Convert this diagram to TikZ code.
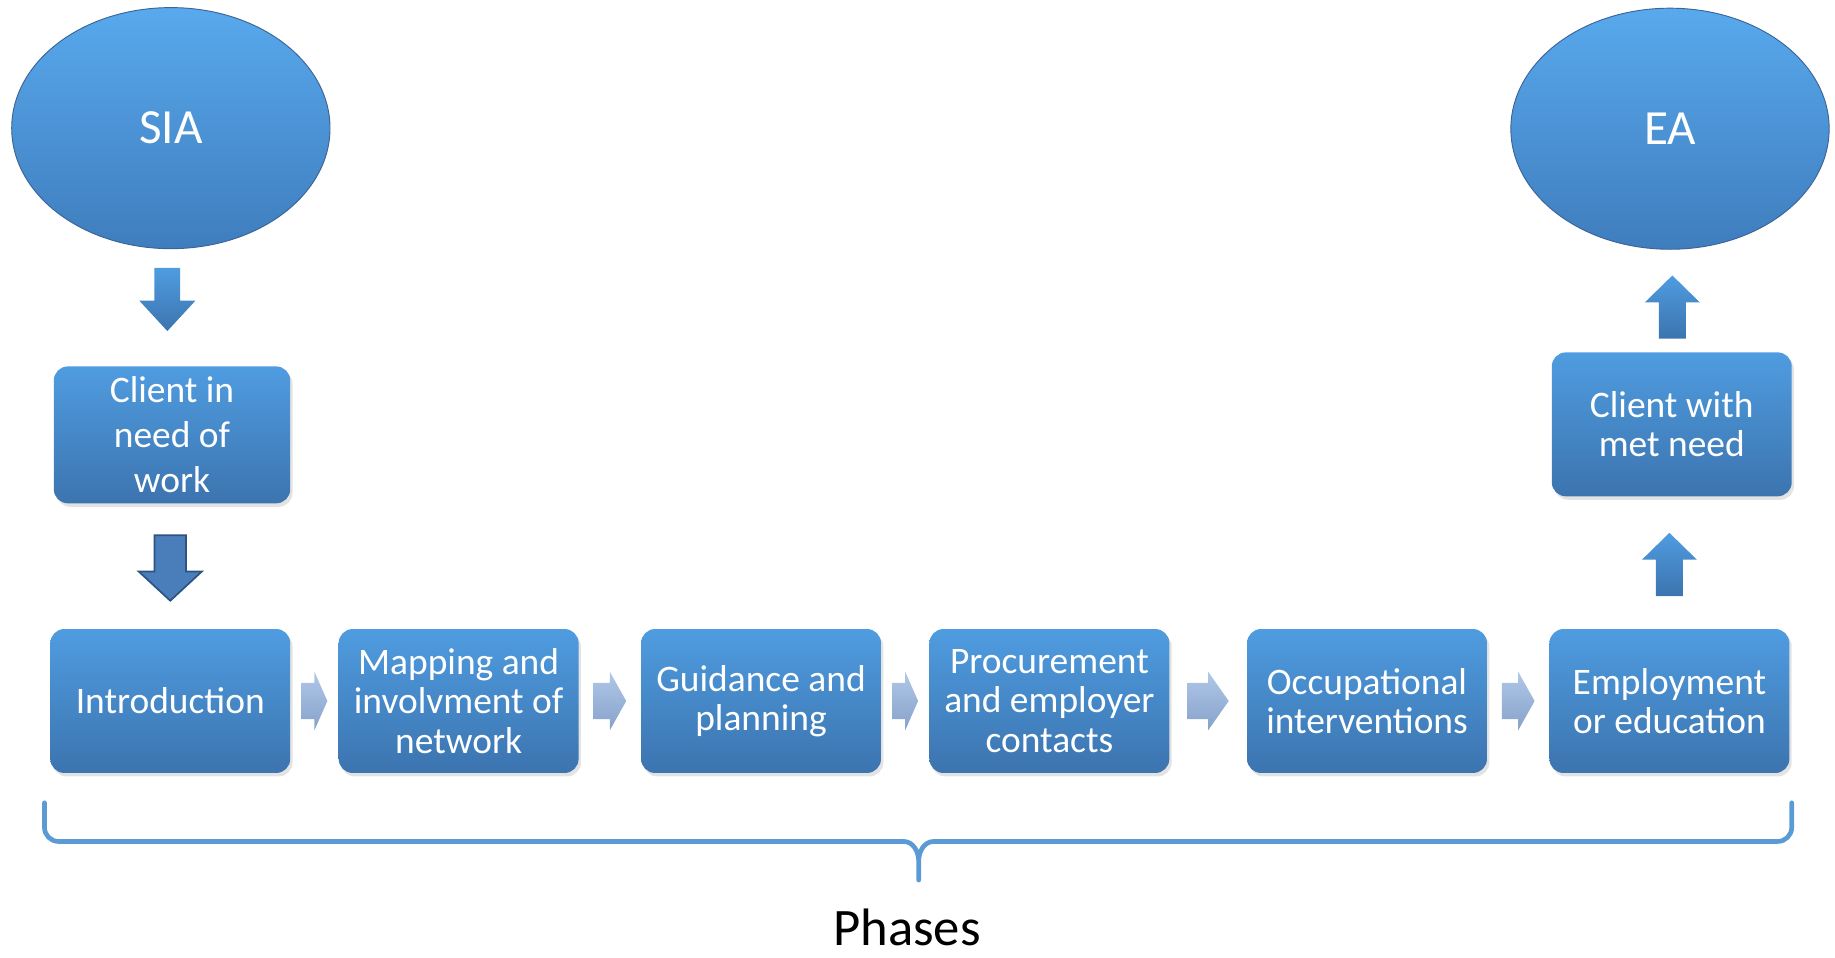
\documentclass[tikz,border=0pt]{standalone}
\usepackage{fontspec}
\setmainfont{Carlito}
\usetikzlibrary{positioning,shapes.geometric,shadows,calc}

\definecolor{boxtop}{RGB}{79,156,224}
\definecolor{boxbot}{RGB}{60,116,175}
\definecolor{elltop}{RGB}{88,169,237}
\definecolor{ellbot}{RGB}{63,125,189}
\definecolor{ellrim}{RGB}{60,100,150}
\definecolor{chevtop}{RGB}{176,200,232}
\definecolor{chevbot}{RGB}{134,161,202}
\definecolor{darkarrow}{RGB}{74,126,187}
\definecolor{darkrim}{RGB}{45,83,130}
\definecolor{bracecol}{RGB}{91,155,213}

\tikzset{
  phase/.style={rectangle, rounded corners=12pt, top color=boxtop, bottom color=boxbot,
    text=white, minimum width=205pt, minimum height=123pt, inner sep=0pt, align=center,
    font=\fontsize{32}{33.5}\selectfont,
    drop shadow={shadow xshift=2pt, shadow yshift=-3pt, opacity=0.22}},
  terminal/.style={ellipse, top color=elltop, bottom color=ellbot, draw=ellrim, line width=0.8pt,
    text=white, minimum width=272pt, minimum height=206pt, inner sep=0pt,
    font=\fontsize{42}{48}\selectfont},
  vblk/.style={top color=boxtop, bottom color=boxbot},
  vblkdark/.style={fill=darkarrow, draw=darkrim, line width=1.5pt, line join=miter},
  chev/.style={top color=chevtop, bottom color=chevbot},
  brace/.style={draw=bracecol, line width=4pt, line cap=round}
}

% block arrow: style, shaft base, shaft half width, head half width, shaft length, head length
\newcommand{\blkarrow}[6]{\path[#1] ($#2+(-#3,0)$) -- ++(0,#5) -- ++({#3-#4},0) -- ++(#4,#6)
  -- ++(#4,{0-(#6)}) -- ++({#3-#4},0) -- ++(0,{0-(#5)}) -- cycle;}

\begin{document}
\begin{tikzpicture}[x=1pt,y=-1pt]
\useasboundingbox (0,0) rectangle (1568,818);

% phases
\node[phase] (intro) at (145.5,599) {Introduction};
\node[phase, right=41pt of intro] (mapping) {Mapping and\\involvment of\\network};
\node[phase, right=53pt of mapping] (guidance) {Guidance and\\planning};
\node[phase, right=41pt of guidance] (procure) {Procurement\\and employer\\contacts};
\node[phase, right=66pt of procure] (occup) {Occupational\\interventions};
\node[phase, right=53pt of occup] (employ) {Employment\\or education};

% clients
\node[phase, minimum width=202pt, minimum height=117pt, font=\fontsize{32}{38.5}\selectfont,
  above=107pt of intro, xshift=1.5pt] (needwork) {Client in\\need of\\work};
\node[phase, above=113pt of employ, xshift=2pt] (metneed) {Client with\\met need};

% start and end
\node[terminal, above=100pt of needwork, xshift=-1pt] (sia) {SIA};
\node[terminal, above=87.5pt of metneed, xshift=-1.5pt] (ea) {EA};

% arrows
\blkarrow{vblk}{(sia.south)+(-3,16)}{11}{24}{28}{26}
\blkarrow{vblkdark}{(needwork.south)+(-1.5,27)}{13.5}{27}{31}{25}
\blkarrow{vblk}{(employ.north)+(0,-28)}{11.5}{23.5}{-31}{-23}
\blkarrow{vblk}{(metneed.north)+(0.5,-11.5)}{11.5}{23.5}{-31}{-23}

\foreach \a/\b/\l in {intro/mapping/22, mapping/guidance/28, guidance/procure/22,
    procure/occup/35, occup/employ/28}
{
  \path (\a.east) -- (\b.west) coordinate[midway] (mid);
  \path[chev] ($(mid)+(-\l/2,-15.5)$) -- ++(\l/2,0) -- ++(0,-9.5) -- ++(\l/2,25)
    -- ++(-\l/2,25) -- ++(0,-9.5) -- ++(-\l/2,0) -- cycle;
}

% brace
\draw[brace] (38,686) -- (38,707) to[out=-90,in=180] (50,719) -- (772,719)
  to[out=0,in=90] (785,736) -- (785,752)
  (785,736) to[out=90,in=180] (798,719) -- (1519,719) to[out=0,in=-90] (1531,707) -- (1531,686);
\node[font=\fontsize{45}{50}\selectfont, anchor=base, inner sep=0pt] (phases) at (775,808) {Phases};
\end{tikzpicture}
\end{document}
